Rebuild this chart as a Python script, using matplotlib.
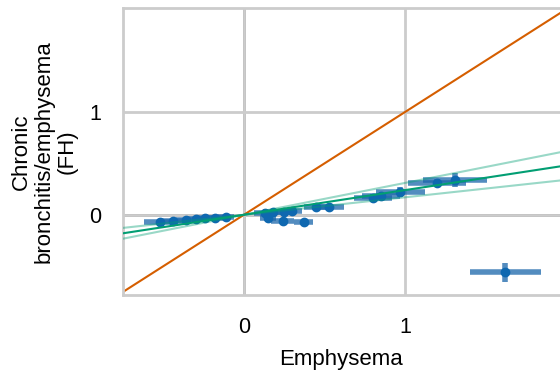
import numpy as np
import matplotlib
matplotlib.use("Agg")
from matplotlib import pyplot as plt

plt.rcParams['font.family'] = ['Liberation Sans', 'DejaVu Sans']

# per-variant effects (exposure = emphysema, outcome = chronic bronchitis)
snp_x = [-0.52, -0.44, -0.36, -0.30, -0.24, -0.18, -0.11,
         0.13, 0.18, 0.25, 0.30, 0.15, 0.24, 0.37,
         0.45, 0.53, 0.80, 0.85, 0.97, 1.20, 1.31]
snp_y = [-0.07, -0.06, -0.05, -0.04, -0.03, -0.03, -0.02,
         0.02, 0.03, 0.03, 0.04, -0.03, -0.06, -0.07,
         0.08, 0.08, 0.16, 0.18, 0.22, 0.31, 0.34]
snp_xerr = [0.10, 0.07, 0.06, 0.06, 0.06, 0.05, 0.05,
            0.07, 0.06, 0.07, 0.06, 0.05, 0.07, 0.06,
            0.08, 0.09, 0.12, 0.12, 0.15, 0.18, 0.20]
snp_yerr = [0.02, 0.02, 0.02, 0.02, 0.02, 0.02, 0.02,
            0.02, 0.02, 0.02, 0.02, 0.03, 0.03, 0.02,
            0.02, 0.02, 0.04, 0.03, 0.05, 0.04, 0.07]

# typical error bar shown in the corner
ref_x, ref_y, ref_xerr, ref_yerr = 1.62, -0.56, 0.22, 0.09

# causal estimate and confidence interval (slopes)
slope = 0.24
slope_lo = 0.17
slope_hi = 0.31

blue = '#0f68b0'
bar_blue = '#1a66aa'
green = '#029e73'
orange = '#d55e00'

fig = plt.figure(figsize=(5.6, 3.75), dpi=100)
ax = fig.add_axes([0.2196, 0.2133, 0.7804, 0.7653])

xlim = (-0.75, 1.96)
ylim = (-0.78, 2.01)
ax.set_xlim(xlim)
ax.set_ylim(ylim)

ax.set_xticks([0, 1])
ax.set_yticks([0, 1])
ax.grid(True, color='#cccccc', linewidth=2, zorder=0)
ax.axvline(0, color='#808080', linewidth=2, zorder=1)
ax.axhline(0, color='#808080', linewidth=2, zorder=1)

for side in ['left', 'top', 'bottom']:
    ax.spines[side].set_color('#cccccc')
    ax.spines[side].set_linewidth(2)
ax.spines['right'].set_visible(False)
ax.tick_params(length=0, pad=16, labelsize=15.5)

xs = np.array(xlim)
ax.plot(xs, xs, color=orange, linewidth=1.5, zorder=2)
ax.plot(xs, slope * xs, color=green, linewidth=1.5, zorder=4)
ax.plot(xs, slope_lo * xs, color=green, linewidth=1.5, alpha=0.4, zorder=4)
ax.plot(xs, slope_hi * xs, color=green, linewidth=1.5, alpha=0.4, zorder=4)

ax.errorbar(snp_x, snp_y, xerr=snp_xerr, yerr=snp_yerr, fmt='none',
            ecolor=bar_blue, elinewidth=4, alpha=0.75, zorder=3)
ax.plot(snp_x, snp_y, 'o', color=blue, markersize=6, zorder=3)

ax.errorbar([ref_x], [ref_y], xerr=[ref_xerr], yerr=[ref_yerr], fmt='none',
            ecolor=bar_blue, elinewidth=4, alpha=0.75, zorder=3)
ax.plot([ref_x], [ref_y], 'o', color=blue, markersize=6, zorder=3)

ax.set_xlabel('Emphysema', fontsize=16, labelpad=8)
ax.set_ylabel('Chronic\nbronchitis/emphysema\n(FH)', fontsize=16, labelpad=8,
              linespacing=1.1)

fig.savefig('out.png', dpi=100)
